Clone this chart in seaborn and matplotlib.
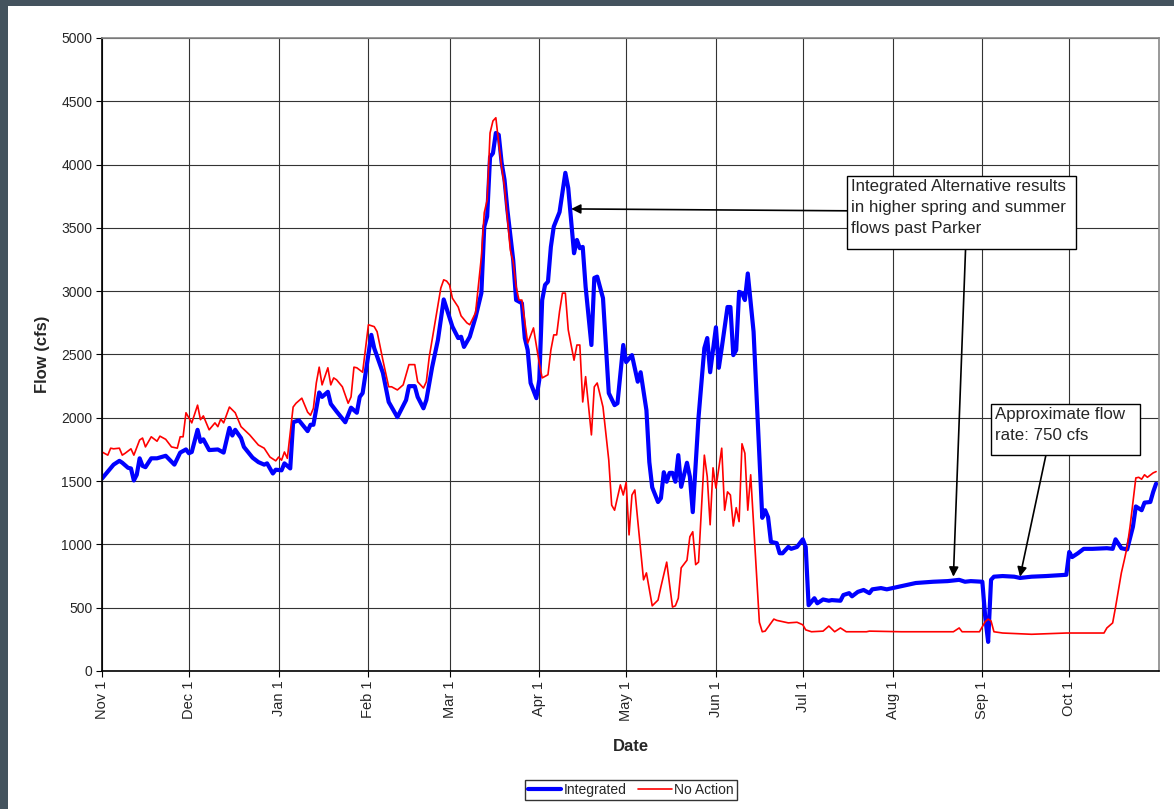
import pandas as pd
import numpy as np
import seaborn as sns
import matplotlib.pyplot as plt
import matplotlib.dates as mdates
from matplotlib.patches import Rectangle

# Daily flows past Parker (day 0 = Nov 1)
integrated_days = [
    0, 4, 6, 7, 9, 10, 11, 12, 13, 14, 15, 17, 19, 22, 25, 27, 29, 30, 31, 33,
    34, 35, 37, 40, 42, 44, 45, 46, 48, 49, 52, 54, 56, 57, 59, 60, 62, 63, 65, 66,
    68, 71, 72, 73, 75, 76, 78, 79, 81, 84, 86, 88, 89, 90, 93, 94, 97, 99, 102, 105,
    106, 108, 109, 111, 112, 114, 116, 118, 121, 123, 124, 125, 127, 129, 131, 132, 133, 134, 135, 136,
    137, 138, 139, 140, 142, 143, 145, 146, 147, 148, 150, 151, 152, 153, 154, 155, 156, 158, 160, 161,
    163, 164, 165, 166, 167, 169, 170, 171, 173, 175, 177, 178, 180, 181, 183, 185, 186, 188, 189, 190,
    192, 193, 194, 195, 196, 197, 198, 199, 200, 202, 203, 204, 206, 208, 209, 210, 211, 212, 213, 214,
    216, 217, 218, 219, 220, 221, 222, 223, 225, 226, 228, 229, 230, 231, 233, 234, 235, 237, 238, 240,
    242, 243, 244, 246, 247, 249, 251, 252, 255, 256, 258, 259, 261, 263, 265, 266, 269, 271, 276, 281,
    287, 292, 296, 298, 300, 304, 305, 306, 307, 308, 311, 315, 317, 321, 326, 333, 334, 335, 337, 339,
    342, 347, 349, 350, 352, 354, 356, 357, 359, 360, 362, 363, 364,
]
integrated_flow = [
    1520, 1630, 1660, 1645, 1605, 1600, 1505, 1550, 1680, 1620, 1610, 1680, 1680, 1700, 1630, 1725, 1750, 1720, 1730, 1905,
    1810, 1830, 1745, 1750, 1725, 1920, 1860, 1905, 1840, 1770, 1685, 1650, 1630, 1640, 1560, 1590, 1585, 1640, 1600, 1965,
    1980, 1895, 1945, 1945, 2200, 2165, 2205, 2110, 2050, 1965, 2080, 2040, 2165, 2195, 2655, 2550, 2355, 2125, 2005, 2140,
    2250, 2250, 2165, 2075, 2140, 2400, 2615, 2935, 2720, 2630, 2640, 2560, 2640, 2795, 2985, 3510, 3590, 4060, 4090, 4250,
    4235, 4015, 3880, 3640, 3245, 2930, 2905, 2630, 2535, 2275, 2155, 2300, 2930, 3050, 3075, 3350, 3510, 3625, 3935, 3815,
    3300, 3405, 3340, 3350, 3035, 2575, 3105, 3115, 2945, 2195, 2100, 2115, 2575, 2440, 2495, 2285, 2360, 2060, 1650, 1450,
    1335, 1365, 1570, 1495, 1565, 1565, 1495, 1705, 1455, 1645, 1535, 1255, 2005, 2550, 2630, 2360, 2535, 2715, 2395, 2550,
    2875, 2875, 2495, 2535, 2995, 2985, 2930, 3140, 2680, 2195, 1210, 1270, 1215, 1020, 1010, 930, 930, 980, 965, 980,
    1040, 980, 520, 575, 535, 565, 555, 560, 555, 600, 615, 590, 625, 640, 615, 645, 655, 645, 670, 695,
    705, 710, 720, 705, 710, 705, 425, 230, 720, 745, 750, 745, 735, 745, 750, 760, 940, 900, 930, 965,
    965, 970, 965, 1040, 970, 960, 1140, 1300, 1270, 1330, 1335, 1415, 1480,
]

no_action_days = [
    0, 2, 3, 4, 6, 7, 8, 10, 11, 13, 14, 15, 17, 19, 20, 22, 24, 26, 27, 28,
    29, 31, 33, 34, 35, 37, 39, 40, 41, 42, 44, 46, 48, 51, 54, 56, 58, 60, 61, 62,
    63, 64, 66, 67, 69, 71, 72, 73, 74, 75, 76, 78, 79, 80, 81, 83, 85, 86, 87, 88,
    90, 92, 94, 95, 97, 99, 100, 102, 104, 106, 108, 109, 111, 112, 113, 117, 118, 119, 120, 121,
    123, 124, 126, 127, 129, 131, 132, 133, 134, 135, 136, 137, 138, 139, 141, 142, 143, 144, 145, 147,
    149, 151, 152, 154, 155, 156, 157, 158, 159, 160, 161, 163, 164, 165, 166, 167, 169, 170, 171, 173,
    175, 176, 177, 179, 180, 181, 182, 183, 184, 185, 187, 188, 190, 192, 193, 195, 197, 198, 199, 200,
    202, 203, 204, 205, 206, 208, 209, 210, 211, 212, 214, 215, 216, 217, 218, 219, 220, 221, 222, 223,
    224, 227, 228, 229, 232, 233, 237, 240, 242, 243, 245, 249, 251, 253, 255, 257, 264, 265, 276, 294,
    296, 297, 303, 305, 306, 307, 308, 311, 321, 333, 346, 347, 349, 350, 352, 353, 354, 355, 357, 358,
    359, 360, 361, 363, 364,
]
no_action_flow = [
    1730, 1705, 1760, 1755, 1760, 1705, 1720, 1755, 1705, 1825, 1840, 1770, 1850, 1815, 1855, 1830, 1770, 1760, 1850, 1850,
    2040, 1960, 2100, 1985, 2015, 1905, 1960, 1930, 1990, 1960, 2085, 2040, 1930, 1865, 1785, 1760, 1690, 1660, 1690, 1665,
    1730, 1680, 2085, 2115, 2155, 2045, 2020, 2075, 2275, 2400, 2260, 2395, 2260, 2315, 2300, 2245, 2115, 2165, 2400, 2395,
    2360, 2735, 2720, 2680, 2455, 2245, 2245, 2220, 2260, 2420, 2420, 2285, 2235, 2285, 2480, 3025, 3090, 3080, 3050, 2945,
    2875, 2805, 2750, 2735, 2830, 3270, 3620, 3720, 4250, 4345, 4370, 4170, 3980, 3825, 3325, 3230, 3035, 2930, 2930, 2590,
    2710, 2430, 2315, 2340, 2535, 2655, 2655, 2840, 2985, 2985, 2695, 2455, 2575, 2575, 2125, 2325, 1865, 2245, 2275, 2085,
    1665, 1310, 1270, 1470, 1390, 1490, 1075, 1390, 1430, 1190, 720, 775, 515, 560, 665, 860, 505, 515, 575, 815,
    875, 1060, 1100, 840, 860, 1705, 1535, 1155, 1605, 1445, 1760, 1270, 1415, 1390, 1145, 1290, 1180, 1795, 1720, 1270,
    1550, 385, 310, 315, 410, 400, 380, 385, 365, 325, 310, 315, 355, 310, 340, 310, 310, 315, 310, 310,
    340, 310, 310, 390, 410, 395, 310, 300, 290, 300, 300, 340, 380, 505, 775, 875, 980, 1140, 1525, 1530,
    1515, 1550, 1530, 1565, 1575,
]

start = pd.Timestamp("2000-11-01")
integrated = pd.DataFrame({
    "Date": start + pd.to_timedelta(integrated_days, unit="D"),
    "Flow": integrated_flow,
})
no_action = pd.DataFrame({
    "Date": start + pd.to_timedelta(no_action_days, unit="D"),
    "Flow": no_action_flow,
})

sns.set_theme(style="white")
plt.rcParams["font.family"] = ["Liberation Sans", "DejaVu Sans"]

fig = plt.figure(figsize=(11.74, 8.09), dpi=100)
fig.patch.set_facecolor("#44535e")
fig.patches.append(Rectangle((8 / 1174, 0), 1, 1 - 6 / 809, transform=fig.transFigure,
                             facecolor="white", edgecolor="none", zorder=-1))

ax = fig.add_axes([102 / 1174, 1 - 671 / 809, 1057 / 1174, 633 / 809])
ax.set_facecolor("white")

sns.lineplot(data=integrated, x="Date", y="Flow", ax=ax, color="#0000ff",
             linewidth=3.0, label="Integrated", estimator=None)
sns.lineplot(data=no_action, x="Date", y="Flow", ax=ax, color="#ff0000",
             linewidth=1.2, label="No Action", estimator=None)

# axes, grid and ticks
ax.set_xlim(start, start + pd.Timedelta(days=365))
ax.set_ylim(0, 5000)
ax.set_yticks(np.arange(0, 5001, 500))
ax.set_xticks(pd.date_range(start, periods=12, freq="MS"))
ax.xaxis.set_major_formatter(mdates.DateFormatter("%b 1"))
ax.tick_params(axis="x", labelrotation=90, labelsize=10.5, length=4, width=0.8,
               color="black", direction="out", bottom=True, pad=3)
ax.tick_params(axis="y", labelsize=10, length=4, width=0.8, color="black",
               direction="out", left=True, pad=3)
ax.grid(True, color="#333333", linewidth=0.8)
ax.set_axisbelow(True)
for side in ["left", "bottom"]:
    ax.spines[side].set_color("black")
    ax.spines[side].set_linewidth(1.2)
for side in ["top", "right"]:
    ax.spines[side].set_color("#888888")
    ax.spines[side].set_linewidth(1.2)

ax.set_xlabel("Date", fontsize=12, fontweight="bold", labelpad=13)
ax.set_ylabel("Flow (cfs)", fontsize=12, fontweight="bold", labelpad=8)

# call-out boxes (pixel positions of the reference turned into axes fractions)
def px_box(x0, y0, x1, y1):
    fx0 = (x0 - 102) / 1057
    fx1 = (x1 - 102) / 1057
    fy0 = (671 - y1) / 633
    fy1 = (671 - y0) / 633
    return fx0, fy0, fx1 - fx0, fy1 - fy0

for (x0, y0, x1, y1), txt in [
    ((847, 176, 1076, 249), "Integrated Alternative results\nin higher spring and summer\nflows past Parker"),
    ((991, 404, 1140, 455), "Approximate flow\nrate: 750 cfs"),
]:
    bx, by, bw, bh = px_box(x0, y0, x1, y1)
    ax.add_patch(Rectangle((bx, by), bw, bh, transform=ax.transAxes, facecolor="white",
                           edgecolor="black", linewidth=1.0, zorder=5))
    ax.text(bx + 4 / 1057, by + bh - 3 / 633, txt, transform=ax.transAxes, fontsize=12.2,
            va="top", ha="left", linespacing=1.5, zorder=6)

arrow = dict(arrowstyle="-|>", color="black", lw=1.2, mutation_scale=14, shrinkA=0, shrinkB=0)
ax.annotate("", xy=(start + pd.Timedelta(days=162), 3650), xycoords="data",
            xytext=(0.705, 0.727), textcoords="axes fraction", arrowprops=arrow, zorder=4)
ax.annotate("", xy=(start + pd.Timedelta(days=294), 745), xycoords="data",
            xytext=(0.817, 0.667), textcoords="axes fraction", arrowprops=arrow, zorder=4)
ax.annotate("", xy=(start + pd.Timedelta(days=317), 745), xycoords="data",
            xytext=(0.893, 0.341), textcoords="axes fraction", arrowprops=arrow, zorder=4)

# legend below the plot
ax.get_legend().remove()
handles, labels = ax.get_legend_handles_labels()
leg = fig.legend(handles, labels, loc="center", bbox_to_anchor=(631 / 1174, 1 - 790 / 809),
                 ncol=2, fontsize=10, frameon=True, fancybox=False, edgecolor="black",
                 handlelength=2.4, handletextpad=0.2, columnspacing=0.8,
                 borderpad=0.25, borderaxespad=0)
leg.get_frame().set_linewidth(1.0)

plt.savefig("out.png", dpi=100, facecolor=fig.get_facecolor())
